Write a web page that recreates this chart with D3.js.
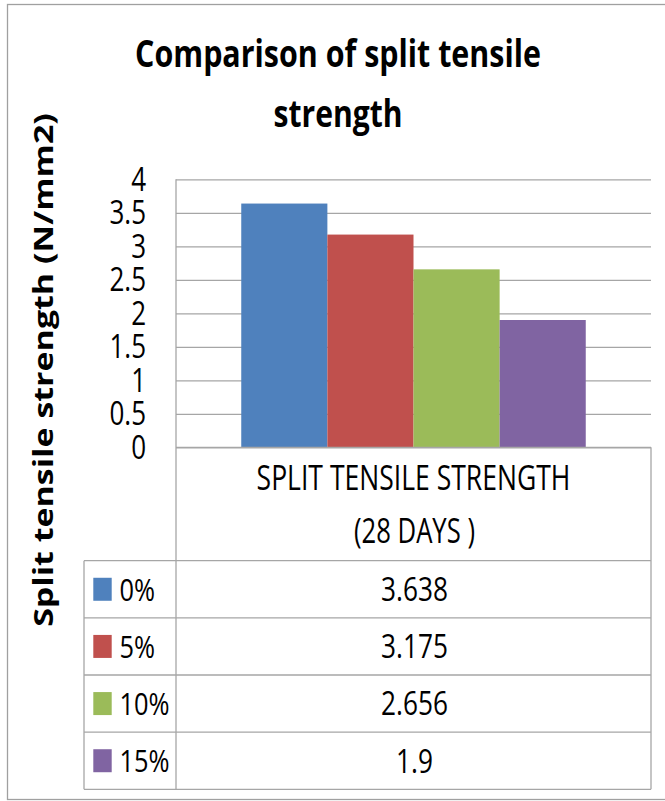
<!DOCTYPE html>
<html>
<head>
<meta charset="utf-8">
<script src="https://cdn.jsdelivr.net/npm/d3@7"></script>
<style>
  html, body { margin: 0; padding: 0; background: #fff; }
  svg { display: block; font-family: "Open Sans", "Lato", sans-serif; }
</style>
</head>
<body>
<svg id="chart" width="665" height="801"></svg>
<script>
// Split tensile strength at 28 days for each replacement percentage
const titleLines = ["Comparison of split tensile", "strength"];
const yAxisTitle = "Split tensile strength (N/mm2)";
const categoryLines = ["SPLIT TENSILE STRENGTH", "(28 DAYS )"];
const seriesNames = ["0%", "5%", "10%", "15%"];
const seriesValues = [3.638, 3.175, 2.656, 1.9];
const seriesColors = ["#4f81bd", "#c0504d", "#9bbb59", "#8064a2"];
const yTickValues = [0, 0.5, 1, 1.5, 2, 2.5, 3, 3.5, 4];

const svg = d3.select("#chart");
const gridColor = "#a6a6a6";

// plot frame
const plot = { left: 176, right: 651, top: 179.3, bottom: 447.3 };
const table = { left: 84, right: 651, headerBottom: 560.7, bottom: 789.3 };

// draws a text condensed horizontally to a given width
function fittedText(parent, str, x, y, size, width, opts = {}) {
  const t = parent.append("text")
    .attr("font-size", size)
    .attr("font-weight", opts.weight || "normal")
    .attr("text-anchor", "middle")
    .attr("fill", "#000")
    .text(str);
  const natural = t.node().getComputedTextLength();
  const sx = width / natural;
  const rot = opts.rotate ? ` rotate(${opts.rotate})` : "";
  t.attr("transform", `translate(${x},${y})${rot} scale(${sx},1)`);
  return t;
}

// outer chart border
svg.append("rect")
  .attr("x", 7.5).attr("y", 4.5)
  .attr("width", 665).attr("height", 795)
  .attr("fill", "none").attr("stroke", "#a0a0a0").attr("stroke-width", 1.3);

// scales
const catKey = categoryLines.join(" ");
const y = d3.scaleLinear().domain([0, 4]).range([plot.bottom, plot.top]);
const xCat = d3.scaleBand().domain([catKey])
  .range([plot.left, plot.right]).paddingInner(0).paddingOuter(0.1894);
const xSeries = d3.scaleBand().domain(seriesNames)
  .range([0, xCat.bandwidth()]).padding(0);
const color = d3.scaleOrdinal().domain(seriesNames).range(seriesColors);

// gridlines via the axis generator
const yAxis = d3.axisLeft(y).tickValues(yTickValues)
  .tickSize(-(plot.right - plot.left)).tickFormat("");
const gAxis = svg.append("g").attr("transform", `translate(${plot.left},0)`).call(yAxis);
gAxis.select(".domain").remove();
gAxis.selectAll(".tick line").attr("stroke", gridColor).attr("stroke-width", 1.3);

// tick labels (condensed, stacked tightly)
const tickFmt = d3.format("~g");
svg.append("g").selectAll("text").data(yTickValues).join("text")
  .attr("transform", d => `translate(146,${y(d) + 11.5}) scale(0.8,1)`)
  .attr("text-anchor", "end")
  .attr("font-size", 32.5)
  .attr("fill", "#000")
  .text(d => tickFmt(d));

// bars
svg.append("g").selectAll("rect").data(seriesNames).join("rect")
  .attr("x", d => xCat(catKey) + xSeries(d))
  .attr("width", xSeries.bandwidth())
  .attr("y", (d, i) => y(seriesValues[i]))
  .attr("height", (d, i) => y(0) - y(seriesValues[i]))
  .attr("fill", d => color(d));

// data table lines
const rowY = d3.scaleBand().domain(seriesNames).range([table.headerBottom, table.bottom]);
const lines = svg.append("g").attr("stroke", gridColor).attr("stroke-width", 1.3).attr("fill", "none");
lines.append("line").attr("x1", plot.left).attr("x2", plot.left).attr("y1", plot.top).attr("y2", table.bottom);
lines.append("line").attr("x1", plot.left).attr("x2", plot.right).attr("y1", y(0)).attr("y2", y(0));
lines.append("line").attr("x1", table.right).attr("x2", table.right).attr("y1", y(0)).attr("y2", table.bottom);
lines.append("line").attr("x1", table.left).attr("x2", table.left).attr("y1", table.headerBottom).attr("y2", table.bottom);
const rowEdges = seriesNames.map(d => rowY(d)).concat([table.bottom]);
lines.selectAll(".row").data(rowEdges).join("line")
  .attr("class", "row")
  .attr("x1", table.left).attr("x2", table.right)
  .attr("y1", d => d).attr("y2", d => d);

// category header
const catCenter = (plot.left + plot.right) / 2;
fittedText(svg, categoryLines[0], catCenter, 490, 35, 314);
fittedText(svg, categoryLines[1], catCenter + 1, 543, 35, 121);

// legend keys, labels and values
const rows = svg.append("g").selectAll("g").data(seriesNames).join("g")
  .attr("transform", d => `translate(0,${rowY(d) + rowY.bandwidth() / 2})`);
rows.append("rect")
  .attr("x", 93.3).attr("y", -11.5).attr("width", 18.4).attr("height", 23)
  .attr("fill", d => color(d));
rows.append("text")
  .attr("transform", "translate(119.5,11.3) scale(0.82,1)")
  .attr("font-size", 31)
  .text(d => d);
rows.append("text")
  .attr("transform", `translate(${catCenter + 1},11.8) scale(0.82,1)`)
  .attr("text-anchor", "middle")
  .attr("font-size", 32)
  .text((d, i) => String(seriesValues[i]));

// chart title
fittedText(svg, titleLines[0], 338, 67, 38, 406, { weight: "bold" });
fittedText(svg, titleLines[1], 338, 127, 38, 129, { weight: "bold" });

// vertical axis title
fittedText(svg, yAxisTitle, 53, 370, 26, 514, { weight: "bold", rotate: -90 });
</script>
</body>
</html>
